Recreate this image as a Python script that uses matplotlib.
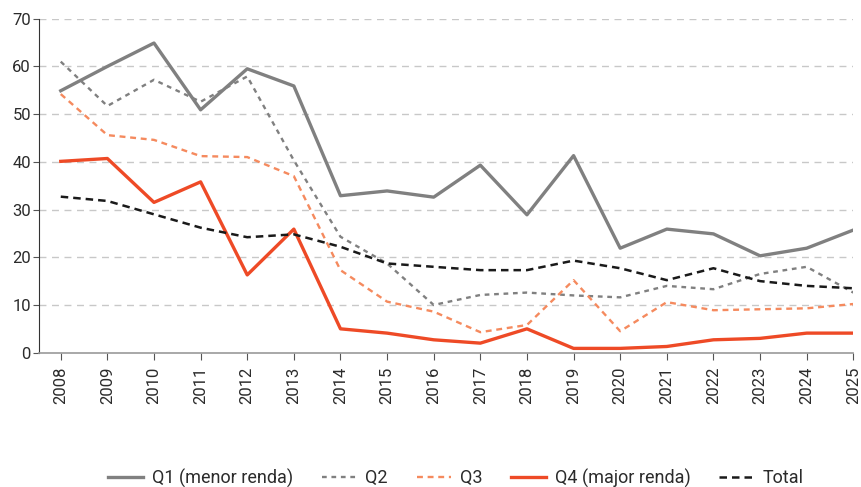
import matplotlib.pyplot as plt

plt.rcParams["font.family"] = ["Roboto", "DejaVu Sans"]

years = list(range(2008, 2026))

q1 = [54.9, 60.0, 64.9, 50.9, 59.5, 55.9, 32.9, 33.9, 32.6, 39.3, 28.9, 41.3,
      21.9, 25.9, 24.9, 20.3, 21.9, 25.7]
q2 = [61.0, 51.7, 57.2, 52.6, 57.9, 40.3, 24.3, 18.7, 10.0, 12.1, 12.6, 12.0,
      11.6, 14.0, 13.3, 16.5, 18.0, 12.6]
q3 = [54.2, 45.6, 44.6, 41.2, 41.0, 37.0, 17.3, 10.7, 8.6, 4.3, 5.8, 15.2,
      4.5, 10.6, 8.9, 9.1, 9.3, 10.2]
q4 = [40.1, 40.7, 31.5, 35.8, 16.3, 25.9, 5.0, 4.1, 2.7, 2.0, 5.0, 0.9,
      0.9, 1.3, 2.7, 3.0, 4.1, 4.1]
total = [32.7, 31.8, 29.0, 26.2, 24.2, 24.8, 22.2, 18.7, 18.0, 17.3, 17.3, 19.3,
         17.7, 15.2, 17.7, 15.0, 14.0, 13.5]

fig = plt.figure(figsize=(8.62, 4.87), dpi=100)
ax = fig.add_axes([0.0456, 0.2758, 0.9443, 0.6858])

ax.plot(years, q1, color="#808080", lw=2.4, label="Q1 (menor renda)")
ax.plot(years, q2, color="#808080", lw=1.7, ls=(0, (2, 2)), label="Q2")
ax.plot(years, q3, color="#F58A5E", lw=1.7, ls=(0, (2.5, 2)), label="Q3")
ax.plot(years, q4, color="#EE4A26", lw=2.4, label="Q4 (major renda)")
ax.plot(years, total, color="#1a1a1a", lw=1.8, ls=(0, (3, 2)), label="Total")

ax.set_xlim(2007.54, 2025)
ax.set_ylim(0, 70)
ax.set_yticks(range(0, 71, 10))
ax.set_xticks(years)
ax.set_xticklabels([str(y) for y in years], rotation=90)

for v in range(10, 71, 10):
    ax.axhline(v, color="#c8c8c8", lw=1, ls=(0, (5, 4)), zorder=0)

for s in ["top", "right"]:
    ax.spines[s].set_visible(False)
ax.spines["left"].set_color("#333333")
ax.spines["bottom"].set_color("#999999")
ax.spines["bottom"].set_linewidth(1.2)
ax.tick_params(axis="x", length=5, color="#555555", labelsize=12,
               labelcolor="#2b2b2b", pad=5)
ax.tick_params(axis="y", length=4, color="#555555", labelsize=12,
               labelcolor="#2b2b2b", pad=2)

fig.legend(loc="center", bbox_to_anchor=(0.529, 0.0185), ncol=5,
           frameon=False, fontsize=13, handlelength=1.9, columnspacing=1.6,
           handletextpad=0.5, labelcolor="#2b2b2b")

fig.savefig("out.png", dpi=100)
